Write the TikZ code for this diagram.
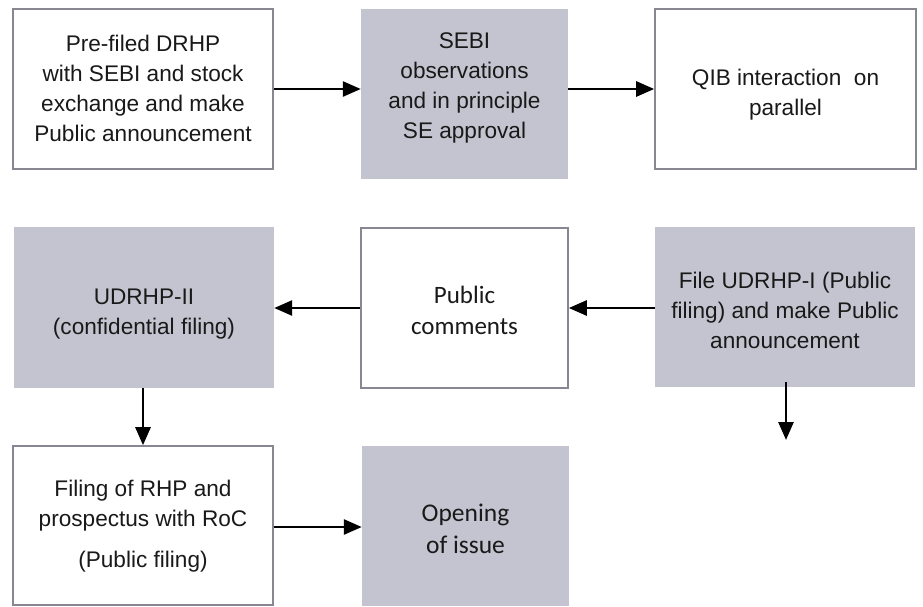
\documentclass[tikz,border=0pt]{standalone}
\usepackage{fontspec}
\setmainfont{Liberation Sans}
\newfontfamily\altfont{Carlito}
\usetikzlibrary{arrows.meta,positioning}
\definecolor{boxfill}{RGB}{196,196,208}
\definecolor{boxline}{RGB}{135,135,145}
\definecolor{txt}{RGB}{25,25,25}
\begin{document}
\begin{tikzpicture}[x=1pt,y=-1pt,
  base/.style={rectangle,inner sep=0pt},
  whitebox/.style={base,draw=boxline,line width=1.6pt,fill=white},
  graybox/.style={base,fill=boxfill},
  label text/.style={inner sep=0pt,align=center,text=txt,
    font=\fontsize{22.6}{30}\selectfont},
  alt text/.style={inner sep=0pt,align=center,text=txt,
    font=\altfont\fontsize{25}{31}\selectfont},
  flow/.style={line width=2.7pt,-{Triangle[length=18pt,width=15pt]}}]
\useasboundingbox (0,0) rectangle (923,606);
% boxes
\node[whitebox,minimum width=260pt,minimum height=160pt] (b1) at (143,89) {};
\node[graybox,minimum width=207pt,minimum height=170pt] (b2) at (464.5,94) {};
\node[whitebox,minimum width=261pt,minimum height=160pt] (b3) at (785.5,89) {};
\node[graybox,minimum width=260pt,minimum height=161pt] (b4) at (144,307.5) {};
\node[whitebox,minimum width=207pt,minimum height=160pt] (b5) at (464.5,308) {};
\node[graybox,minimum width=260pt,minimum height=160pt] (b6) at (785,307) {};
\node[whitebox,minimum width=260pt,minimum height=159pt] (b7) at (143,525.5) {};
\node[graybox,minimum width=207pt,minimum height=160pt] (b8) at (465.5,526) {};
% texts
\node[label text] (t1) at ([yshift=1pt]b1.center)
  {Pre-filed DRHP\\with SEBI and stock\\exchange and make\\Public announcement};
\node[label text] (t2) at ([yshift=6pt]b2.center)
  {SEBI\\observations\\and in principle\\SE approval};
\node[label text] (t3) at ([yshift=-6pt]b3.center)
  {QIB interaction\ \ on\\parallel};
\node[label text] (t4) at ([yshift=-7pt]b4.center)
  {UDRHP-II\\(confidential filing)};
\node[alt text] (t5) at ([yshift=-2pt]b5.center) {Public\\comments};
\node[label text] (t6) at ([yshift=-3pt]b6.center)
  {File UDRHP-I (Public\\filing) and make Public\\announcement};
\node[label text] (t7) at ([yshift=-1pt]b7.center)
  {Filing of RHP and\\prospectus with RoC\\[11pt](Public filing)};
\node[alt text,font=\altfont\fontsize{25.5}{32}\selectfont] (t8) at ([yshift=-3pt]b8.center)
  {Opening\\of issue};
% connectors
\coordinate (e6) at (786,440);
\draw[flow] (b1.east) -- (b1.east -| b2.west);
\draw[flow] (b2.east |- b1.east) -- (b3.west);
\draw[flow] (b6.west |- b5.east) -- (b5.east);
\draw[flow] (b5.west) -- (b5.west -| b4.east);
\draw[flow] (b7.north |- b4.south) -- (b7.north);
\draw[flow] (e6 |- b6.south) ++(0,-5) -- (e6);
\draw[flow] (b7.east |- 0,527) -- (b8.west |- 0,527);
\end{tikzpicture}
\end{document}
